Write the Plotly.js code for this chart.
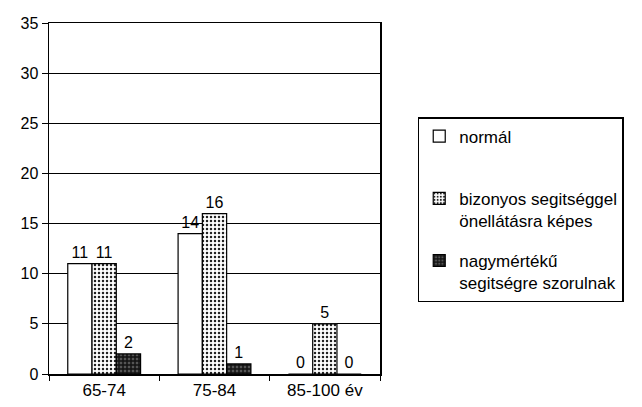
<!DOCTYPE html>
<html><head><meta charset="utf-8">
<script src="https://cdn.plot.ly/plotly-3.0.1.min.js"></script>
<style>body{margin:0;background:#fff}#c{width:642px;height:407px}</style>
</head><body><div id="c"></div>
<script>
const categories = ["65-74", "75-84", "85-100 év"];
const normal = [11, 14, 0];
const bizonyos = [11, 16, 5];
const nagymerteku = [2, 1, 0];
const seriesNames = ["normál<br> ", "bizonyos segitséggel<br>önellátásra képes", "nagymértékű<br>segitségre szorulnak"];

const font = {family: "Liberation Sans, Arial, sans-serif", color: "#000"};
function tr(vals, name, pattern, fill, grp) {
  return {
    type: "bar", x: categories, y: vals, name: name, legendgroup: grp,
    text: vals.map(String), textposition: "outside", cliponaxis: false,
    textfont: Object.assign({size: 16}, font),
    marker: {color: fill, line: {color: "#000", width: 1.2}, pattern: pattern}
  };
}
const data = [
  tr(normal, seriesNames[0], {shape: ""}, "#fff", "a"),
  tr(bizonyos, seriesNames[1], {shape: ".", fgcolor: "#222", bgcolor: "#fff", size: 4, solidity: 0.3}, "#fff", "b"),
  tr(nagymerteku, seriesNames[2], {shape: "+", fgcolor: "#111", bgcolor: "#555", size: 4, solidity: 0.6}, "#222", "c")
];
const layout = {
  width: 642, height: 407,
  margin: {l: 49, r: 262, t: 23, b: 33},
  paper_bgcolor: "#fff", plot_bgcolor: "#fff",
  font: font,
  barmode: "group", bargap: 0.34, bargroupgap: 0,
  xaxis: {type: "category", showline: true, linecolor: "#000", linewidth: 1.5, mirror: true,
    ticks: "outside", tickson: "boundaries", ticklen: 5, tickcolor: "#000",
    tickfont: Object.assign({size: 17}, font), showgrid: false},
  yaxis: {range: [0, 35], dtick: 5, showline: true, linecolor: "#000", linewidth: 1.5, mirror: true,
    ticks: "outside", ticklen: 6, tickcolor: "#000", showgrid: true, gridcolor: "#000", gridwidth: 1,
    tickfont: Object.assign({size: 16}, font), zeroline: false},
  legend: {x: 1.114, xanchor: "left", y: 0.732, yanchor: "top", bordercolor: "#000", borderwidth: 1.5,
    bgcolor: "#fff", font: Object.assign({size: 17}, font), tracegroupgap: 15, itemwidth: 30,
    entrywidth: 197, valign: "top"},
  showlegend: true
};
Plotly.newPlot("c", data, layout, {displayModeBar: false, staticPlot: true});
</script></body></html>
